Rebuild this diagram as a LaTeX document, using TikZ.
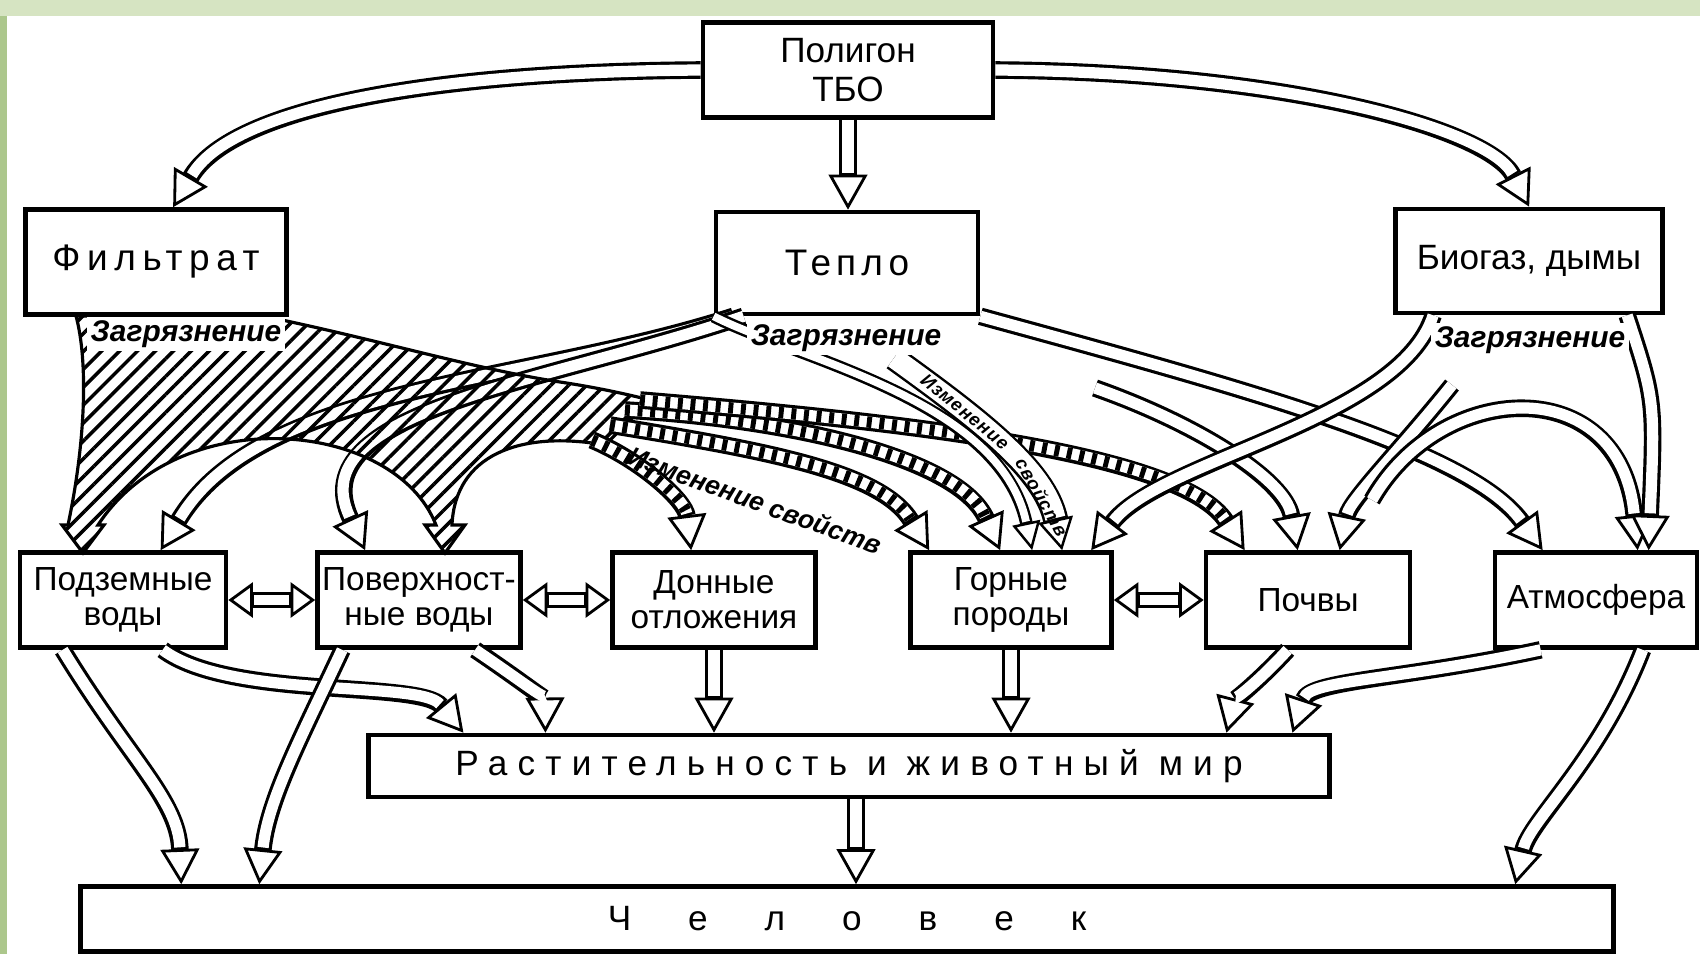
\documentclass[tikz,border=0pt]{standalone}
\usepackage{fontspec}
\setmainfont{Liberation Sans}
\usetikzlibrary{arrows.meta,calc,patterns.meta}
\definecolor{framegreen}{RGB}{214,228,194}
\definecolor{edgegreen}{RGB}{172,199,140}

\begin{document}
\begin{tikzpicture}[
  x=0.01cm, y=-0.01cm,
  box/.style={draw, line width=1.3pt, fill=white, align=center, inner sep=0pt, font=\fontsize{9.5}{10}\selectfont},
  flow/.style={draw, line width=5pt, -{Triangle[fill=white,length=10pt,width=11pt,line width=0.8pt]},
    postaction={draw=white, -, line width=3.2pt, shorten >=10.5pt}},
  ribflow/.style={flow, postaction={draw=black, -, line width=3.2pt, shorten >=10.5pt, dash pattern=on 1.4pt off 2.2pt}},
  thinflow/.style={draw, line width=3.6pt, -{Triangle[fill=white,length=8pt,width=8pt,line width=0.7pt]},
    postaction={draw=white, -, line width=2.2pt, shorten >=8.3pt}},
  wideflow/.style={draw, line width=7.2pt, -{Triangle[fill=white,length=9pt,width=10pt,line width=0.7pt]},
    postaction={draw=white, -, line width=5.8pt, shorten >=9.3pt}},
  flowboth/.style={draw, line width=4.4pt,
    {Triangle[fill=white,length=7pt,width=10pt,line width=0.8pt]}-{Triangle[fill=white,length=7pt,width=10pt,line width=0.8pt]},
    postaction={draw=white, -, line width=2.8pt, shorten >=7.3pt, shorten <=7.3pt}},
  hatch/.style={draw, line width=0.9pt, pattern={Lines[angle=45,distance=3.6pt,line width=1pt]}},
  lbl/.style={font=\fontsize{8.5}{9}\selectfont\bfseries\itshape, inner sep=1pt},
  tiny/.style={font=\fontsize{5.2}{6}\selectfont\bfseries\itshape\addfontfeature{LetterSpace=6}, inner sep=0pt}
]
  \useasboundingbox (0,0) rectangle (1700,954);
  \fill[framegreen] (0,0) rectangle (1700,954);
  \fill[white] (7,16) rectangle (1700,954);
  \fill[edgegreen] (0,16) rectangle (7,954);

  % boxes
  \node[box, minimum width=2.9cm, minimum height=0.95cm, font=\fontsize{10}{11}\selectfont] (poligon) at (848,70) {Полигон\\ТБО};
  \node[box, minimum width=2.61cm, minimum height=1.05cm, font=\fontsize{10.5}{12}\selectfont\addfontfeature{LetterSpace=18}] (filtrat) at (156,262) {Фильтрат};
  \node[box, minimum width=2.62cm, minimum height=1.02cm, font=\fontsize{10.5}{12}\selectfont\addfontfeature{LetterSpace=14}] (teplo) at (847,263) {Тепло};
  \node[box, minimum width=2.67cm, minimum height=1.04cm, font=\fontsize{10}{12}\selectfont] (biogaz) at (1529,261) {Биогаз, дымы};

  \node[box, minimum width=2.06cm, minimum height=0.95cm] (podzem) at (123,600) {Подземные\\воды};
  \node[box, minimum width=2.03cm, minimum height=0.95cm] (poverh) at (419,600) {Поверхност-\\ные воды};
  \node[box, minimum width=2.03cm, minimum height=0.95cm] (donnye) at (714,600) {Донные\\отложения};
  \node[box, minimum width=2.01cm, minimum height=0.95cm] (gornye) at (1011,600) {Горные\\породы};
  \node[box, minimum width=2.04cm, minimum height=0.95cm] (pochvy) at (1308,600) {Почвы};
  \node[box, minimum width=2.02cm, minimum height=0.95cm] (atmos) at (1596,600) {Атмосфера};

  \node[box, minimum width=9.6cm, minimum height=0.62cm, font=\fontsize{10}{12}\selectfont\addfontfeature{LetterSpace=29}] (rastit) at (849,766) {Растительность и животный мир};
  \node[box, minimum width=15.32cm, minimum height=0.65cm, font=\fontsize{10}{12}\selectfont] (chelovek) at (847,919) {\spaceskip=1.62em plus 0pt\relax Ч е л о в е к};

  % from the landfill
  \draw[flow] (poligon.west) .. controls (420,72) and (230,110) .. ($(filtrat.north west)+(150,0)$);
  \draw[flow] (poligon.south) -- (poligon.south |- teplo.north);
  \draw[flow] (poligon.east) .. controls (1290,72) and (1490,130) .. ($(biogaz.north west)+(136,0)$);

  % heat to the waters
  \draw[flow] ($(teplo.south west)+(20,0)$) .. controls (520,385) and (260,385) .. ($(podzem.north west)+(143,0)$);
  \draw[flow] ($(teplo.south west)+(30,0)$) .. controls (540,385) and (300,410) .. ($(poverh.north west)+(50,0)$);

  % filtrate band
  \path[hatch] (76,316) -- (263,316) .. controls (380,340) and (470,368) .. (560,382)
    .. controls (600,388) and (630,395) .. (650,400) -- (605,445)
    .. controls (520,430) and (455,455) .. (452,525) -- (465,525) -- (445,553) -- (425,525) -- (436,525)
    .. controls (395,420) and (180,400) .. (98,525) -- (104,525) -- (83,553) -- (62,525) -- (68,525)
    .. controls (86,440) and (88,360) .. (76,316) -- cycle;
  \draw[ribflow] (592,440) .. controls (640,460) and (685,500) .. ($(donnye.north west)+(81,0)$);
  \draw[ribflow] (610,425) .. controls (760,450) and (880,470) .. ($(gornye.north west)+(21,0)$);
  \draw[ribflow] (625,410) .. controls (800,420) and (960,460) .. ($(gornye.north west)+(92,0)$);
  \draw[ribflow] (640,400) .. controls (880,420) and (1180,450) .. ($(pochvy.north west)+(41,0)$);

  % heat to the rocks, soils, air
  \coordinate (tipa) at (894,358);
  \coordinate (tipb) at (1095,388);
  \draw[thinflow] (teplo.south west) .. controls (800,360) and (1000,400) .. ($(gornye.north west)+(124,0)$);
  \draw[wideflow] (tipa) .. controls (980,420) and (1045,470) .. ($(gornye.north west)+(154,0)$)
    node[tiny, pos=0.3, sloped] (izm2) {Изменение}
    node[tiny, pos=0.76, sloped] (izm3) {свойств};
  \draw[flow] (teplo.south east) .. controls (1250,390) and (1470,450) .. ($(atmos.north west)+(50,0)$);
  \draw[flow] (tipb) .. controls (1200,425) and (1285,480) .. ($(pochvy.north west)+(94,0)$);

  % biogas
  \coordinate (tipc) at (1452,385);
  \coordinate (tipd) at (1372,500);
  \draw[flow] ($(biogaz.south west)+(40,0)$) .. controls (1400,420) and (1160,460) .. ($(gornye.north west)+(183,0)$);
  \draw[flow] (tipc) .. controls (1400,450) and (1350,500) .. ($(pochvy.north west)+(136,0)$);
  \draw[flow] (tipd) .. controls (1440,380) and (1620,370) .. ($(atmos.north west)+(145,0)$);
  \draw[flow] ($(biogaz.south west)+(234,0)$) .. controls (1655,400) .. ($(atmos.north west)+(156,0)$);

  % exchange
  \draw[flowboth] (podzem.east) -- (poverh.west);
  \draw[flowboth] (poverh.east) -- (donnye.west);
  \draw[flowboth] (gornye.east) -- (pochvy.west);

  % down to life and man
  \coordinate (rs) at ($(rastit.south)+(7,0)$);
  \draw[flow] (donnye.south) -- (donnye.south |- rastit.north);
  \draw[flow] (gornye.south) -- (gornye.south |- rastit.north);
  \draw[flow] (rs) -- (rs |- chelovek.north);
  \draw[flow] ($(podzem.south west)+(45,0)$) .. controls (130,760) and (178,800) .. ($(chelovek.north west)+(103,0)$);
  \draw[flow] ($(podzem.south west)+(145,0)$) .. controls (230,700) and (420,680) .. ($(rastit.north west)+(97,0)$);
  \draw[flow] ($(poverh.south west)+(27,0)$) .. controls (300,740) and (268,800) .. ($(chelovek.north west)+(181,0)$);
  \draw[flow] ($(poverh.south west)+(160,0)$) .. controls (520,680) and (545,700) .. ($(rastit.north west)+(179,0)$);
  \draw[flow] ($(pochvy.south west)+(84,0)$) .. controls (1260,680) and (1235,700) .. ($(rastit.north west)+(860,0)$);
  \draw[flow] ($(atmos.south west)+(48,0)$) .. controls (1400,680) and (1310,680) .. ($(rastit.north west)+(926,0)$);
  \draw[flow] ($(atmos.south west)+(150,0)$) .. controls (1600,760) and (1530,820) .. ($(chelovek.north west)+(1437,0)$);

  % labels
  \node[lbl, fill=white] (zag1) at (186,334) {Загрязнение};
  \node[lbl, fill=white] (zag2) at (846,338) {Загрязнение};
  \node[lbl, fill=white] (zag3) at (1530,340) {Загрязнение};
  \node[lbl, font=\fontsize{7.5}{8}\selectfont\bfseries\itshape, rotate=-20] (izm1) at (755,500) {Изменение свойств};
\end{tikzpicture}
\end{document}
